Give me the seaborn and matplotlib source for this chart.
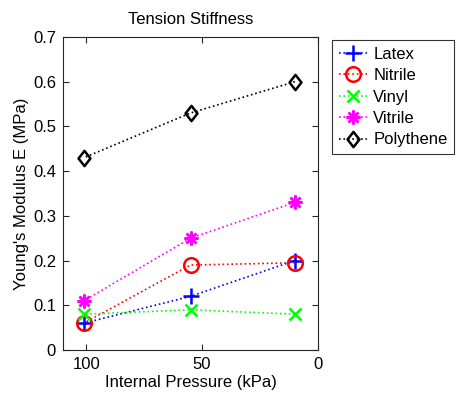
import matplotlib
matplotlib.use("Agg")
import matplotlib.pyplot as plt
from matplotlib.path import Path
import seaborn as sns
import pandas as pd

pressure = [101, 55, 10]
latex = [0.06, 0.12, 0.20]
nitrile = [0.06, 0.19, 0.195]
vinyl = [0.08, 0.09, 0.08]
vitrile = [0.11, 0.25, 0.33]
polythene = [0.43, 0.53, 0.60]

series_names = ["Latex", "Nitrile", "Vinyl", "Vitrile", "Polythene"]
series_values = [latex, nitrile, vinyl, vitrile, polythene]
colors = ["#0000ff", "#ff0000", "#00ff00", "#ff00ff", "#000000"]
diamond = Path([(0, 1), (0.78, 0), (0, -1), (-0.78, 0), (0, 1)],
               [Path.MOVETO, Path.LINETO, Path.LINETO, Path.LINETO, Path.CLOSEPOLY])
markers = ["+", "o", "x", (8, 2, 0), diamond]
msizes = [12, 10.5, 8, 10, 11]

x_ticks = [100, 50, 0]
y_ticks = [0, 0.1, 0.2, 0.3, 0.4, 0.5, 0.6, 0.7]

sns.set_theme(style="white")
plt.rcParams["font.family"] = ["Liberation Sans", "DejaVu Sans"]

fig = plt.figure(figsize=(4.59, 3.94), dpi=100)
ax = fig.add_axes([63 / 459, 1 - 350 / 394, (318 - 63) / 459, (350 - 37) / 394])

for name, vals, c, m, ms in zip(series_names, series_values, colors, markers, msizes):
    df = pd.DataFrame({"x": pressure, "y": vals})
    sns.lineplot(data=df, x="x", y="y", ax=ax, color=c, linestyle=":", linewidth=1.2,
                 marker=m, markersize=ms, markeredgewidth=1.8, markerfacecolor="none",
                 markeredgecolor=c, label=name, legend=False)

ax.set_xlim(110, 0)
ax.set_ylim(0, 0.7)
ax.set_xticks(x_ticks)
ax.set_xticklabels([str(t) for t in x_ticks])
ax.set_yticks(y_ticks)
ax.set_yticklabels(["0", "0.1", "0.2", "0.3", "0.4", "0.5", "0.6", "0.7"])
ax.tick_params(direction="in", length=4, width=0.8, colors="#262626", labelcolor="black",
               labelsize=12, top=True, right=True, bottom=True, left=True, pad=5)
for s in ax.spines.values():
    s.set_visible(True)
    s.set_color("#262626")
    s.set_linewidth(0.8)

ax.set_xlabel("Internal Pressure (kPa)", fontsize=12, color="black", labelpad=2)
ax.set_ylabel("Young's Modulus E (MPa)", fontsize=12, color="black", labelpad=3)
ax.set_title("Tension Stiffness", fontsize=12, color="black", pad=9)

handles, labels = ax.get_legend_handles_labels()
leg = fig.legend(handles, labels, loc="upper left",
                 bbox_to_anchor=(332 / 459, 1 - 40 / 394), bbox_transform=fig.transFigure,
                 borderaxespad=0, fontsize=12, frameon=True, fancybox=False,
                 labelspacing=0.38, borderpad=0.42, handlelength=1.65, handletextpad=0.4)
leg.get_frame().set_edgecolor("black")
leg.get_frame().set_linewidth(0.8)
leg.get_frame().set_facecolor("white")
for t in leg.get_texts():
    t.set_color("black")

fig.savefig("out.png", dpi=100, facecolor="white")
